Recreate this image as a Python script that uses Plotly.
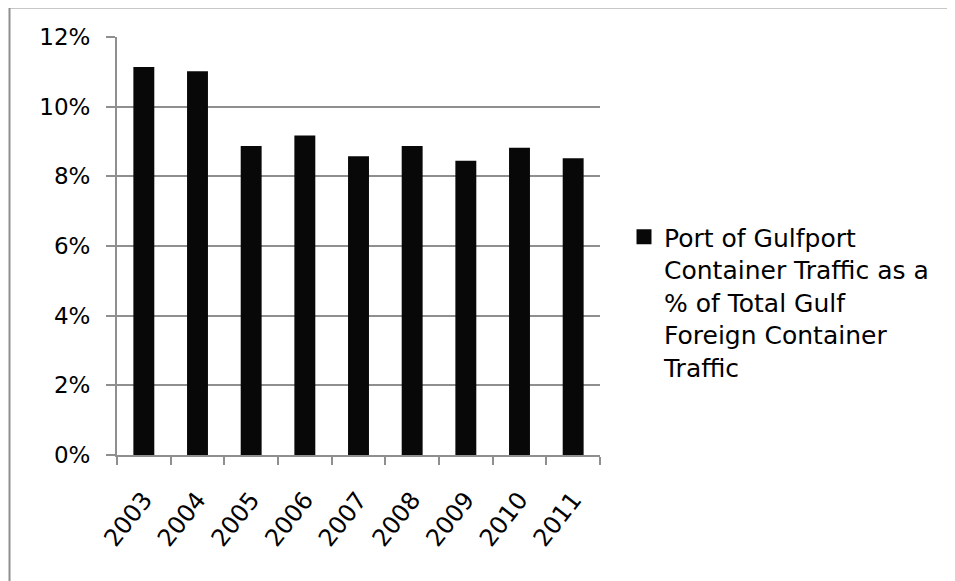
import plotly.graph_objects as go

years = ["2003", "2004", "2005", "2006", "2007", "2008", "2009", "2010", "2011"]
share_pct = [11.14, 11.02, 8.87, 9.17, 8.58, 8.87, 8.45, 8.82, 8.52]
y_ticks = [0, 2, 4, 6, 8, 10, 12]
series_name = "Port of Gulfport<br>Container Traffic as a<br>% of Total Gulf<br>Foreign Container<br>Traffic"

FONT = "DejaVu Sans"
GRID = "#8f8f8f"
BAR = "#080808"

# page has an 8px body margin; size the figure so it fills the window exactly
OFF = 8
W, H = 955 - OFF, 581 - OFF
PL, PT, PR, PB = 117, 37, 600, 455  # plot area in window pixels
L, T = PL - OFF, PT - OFF
R, B = 955 - PR, 581 - PB
pw, ph = PR - PL, PB - PT

def px_x(p):
    return (p - PL) / pw

def px_y(p):
    return (PB - p) / ph

fig = go.Figure()
fig.add_trace(go.Bar(
    x=years, y=share_pct, name=series_name,
    marker=dict(color=BAR, line=dict(width=0)),
    showlegend=False,
))
fig.add_trace(go.Scatter(
    x=[None], y=[None], mode="markers", name=series_name,
    marker=dict(symbol="square", size=15, color=BAR),
    showlegend=True,
))

fig.update_layout(
    width=W, height=H,
    margin=dict(l=L, r=R, t=T, b=B, pad=0, autoexpand=False),
    paper_bgcolor="white", plot_bgcolor="white",
    bargap=0.61,
    font=dict(family=FONT, size=23, color="black"),
    showlegend=True,
    legend=dict(
        x=px_x(624), y=px_y(214), xanchor="left", yanchor="top",
        font=dict(family=FONT, size=25, color="black"),
        valign="top", itemwidth=30, tracegroupgap=0,
        bgcolor="rgba(0,0,0,0)",
    ),
    xaxis=dict(
        type="category", showgrid=False, showline=True, linecolor=GRID, linewidth=2,
        ticks="outside", tickson="boundaries", ticklen=8, tickwidth=2, tickcolor=GRID,
        tickangle=-52, tickfont=dict(family=FONT, size=24), ticklabelstandoff=19,
        automargin=False,
    ),
    yaxis=dict(
        range=[0, 12], tickvals=y_ticks, ticktext=[f"{v}%" for v in y_ticks],
        showgrid=True, gridcolor=GRID, gridwidth=2, zeroline=False,
        showline=True, linecolor=GRID, linewidth=2,
        ticks="outside", ticklen=9, tickwidth=2, tickcolor=GRID,
        tickfont=dict(family=FONT, size=23), ticklabelstandoff=11,
        automargin=False,
    ),
    shapes=[
        dict(type="line", xref="paper", yref="paper", x0=px_x(9.5), x1=px_x(960),
             y0=px_y(7.5), y1=px_y(7.5), line=dict(color=GRID, width=2)),
        dict(type="line", xref="paper", yref="paper", x0=px_x(9.5), x1=px_x(9.5),
             y0=px_y(7.5), y1=px_y(590), line=dict(color=GRID, width=2)),
    ],
)

fig.write_html("out.html")
